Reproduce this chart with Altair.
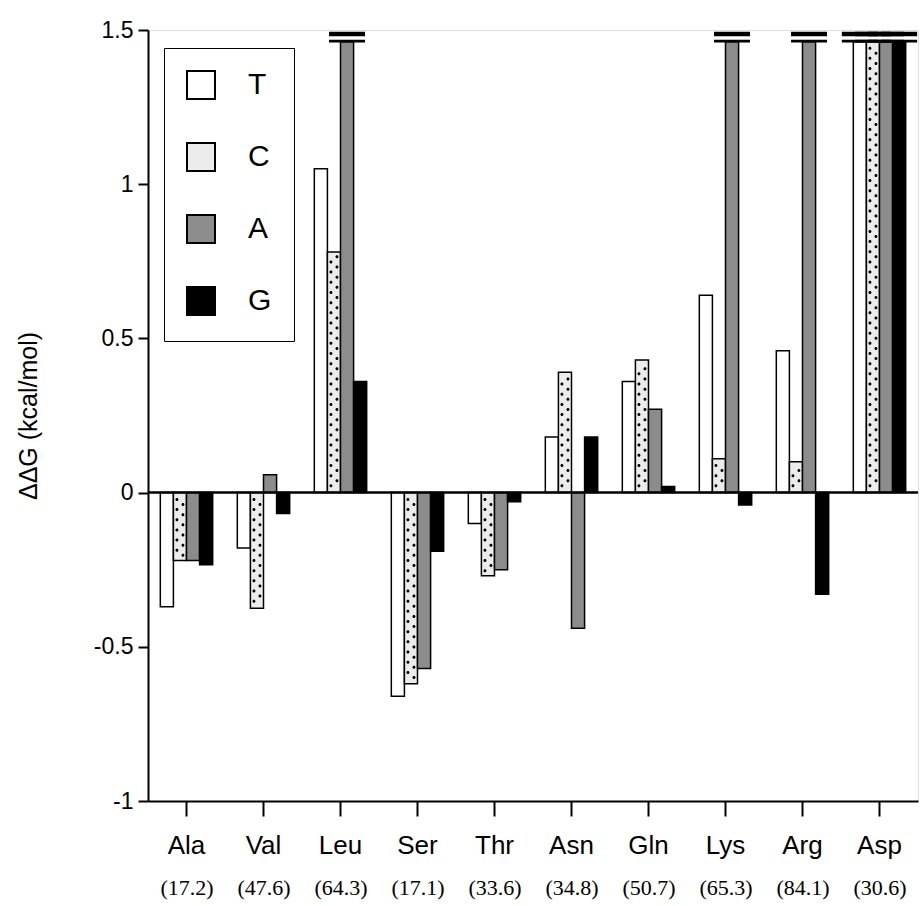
import altair as alt
import pandas as pd
import numpy as np

amino = ["Ala", "Val", "Leu", "Ser", "Thr", "Asn", "Gln", "Lys", "Arg", "Asp"]
volumes = ["(17.2)", "(47.6)", "(64.3)", "(17.1)", "(33.6)", "(34.8)", "(50.7)", "(65.3)", "(84.1)", "(30.6)"]
bases = ["T", "C", "A", "G"]
base_colors = ["#ffffff", "#ececec", "#8c8c8c", "#000000"]

# values of 1.5 are off scale (drawn as broken bars)
dG_T = [-0.37, -0.18, 1.05, -0.66, -0.10, 0.18, 0.36, 0.64, 0.46, 1.5]
dG_C = [-0.22, -0.375, 0.78, -0.62, -0.27, 0.39, 0.43, 0.11, 0.10, 1.5]
dG_A = [-0.22, 0.058, 1.5, -0.57, -0.25, -0.44, 0.27, 1.5, 1.5, 1.5]
dG_G = [-0.234, -0.068, 0.36, -0.19, -0.03, 0.18, 0.02, -0.04, -0.33, 1.5]

Y_MIN, Y_MAX = -1.0, 1.5
BAR_TOP = 1.462

rows = []
for b, vals in zip(bases, [dG_T, dG_C, dG_A, dG_G]):
    for a, v in zip(amino, vals):
        rows.append({"amino": a, "base": b, "value": v,
                     "shown": min(v, BAR_TOP), "capped": v >= Y_MAX})
df = pd.DataFrame(rows)

# dotted pattern inside C bars (staggered two columns)
dots = []
for a, v in zip(amino, dG_C):
    top = min(abs(v), BAR_TOP)
    ys = np.arange(0.022, top - 0.012, 0.0165)
    for i, yy in enumerate(ys):
        dots.append({"amino": a, "base": "C", "y": float(np.sign(v) * yy),
                     "side": "L" if i % 2 == 0 else "R"})
dots_df = pd.DataFrame(dots)

vol_df = pd.DataFrame({"vol": volumes})

FONT = "Liberation Sans"

x_scale = alt.Scale(domain=amino, paddingInner=0.32, paddingOuter=0.16)
x_axis = alt.Axis(title=None, labelAngle=0, labelFont=FONT, labelFontSize=26,
                  labelColor="black", labelPadding=16, tickSize=15,
                  tickWidth=2, tickColor="black", domainColor="black",
                  domainWidth=2, labelBaseline="top")
x_enc = alt.X("amino:N", sort=amino, scale=x_scale, axis=x_axis)
xoff = alt.XOffset("base:N", sort=bases,
                   scale=alt.Scale(domain=bases, paddingInner=0, paddingOuter=0))
y_scale = alt.Scale(domain=[Y_MIN, Y_MAX], nice=False, zero=False)
y_axis = alt.Axis(title="ΔΔG (kcal/mol)", values=[-1, -0.5, 0, 0.5, 1, 1.5],
                  labelExpr="toString(datum.value)", labelFont=FONT,
                  labelFontSize=23, labelColor="black", tickSize=10, tickWidth=2,
                  tickColor="black", domainColor="black", domainWidth=2,
                  grid=False, titleFont=FONT, titleFontSize=25,
                  titleFontWeight="normal", titleColor="black", titlePadding=52,
                  labelPadding=5)

bars = alt.Chart(df).mark_bar(stroke="black", strokeWidth=1.5).encode(
    x=x_enc,
    xOffset=xoff,
    y=alt.Y("shown:Q", scale=y_scale, axis=y_axis),
    y2=alt.datum(0),
    color=alt.Color("base:N", sort=bases,
                    scale=alt.Scale(domain=bases, range=base_colors),
                    legend=alt.Legend(title=None, orient="none", legendX=16, legendY=18,
                                      symbolType="square", symbolSize=784,
                                      symbolStrokeColor="black", symbolStrokeWidth=2,
                                      labelFont=FONT, labelFontSize=30, labelColor="black",
                                      labelOffset=32, rowPadding=36, padding=22,
                                      strokeColor="black", fillColor="white")),
)

# small round dots, shifted left / right of the C bar centre via the symbol path
LEFT_DOT = "M -1.5 0 A 0.5 0.5 0 1 0 -0.5 0 A 0.5 0.5 0 1 0 -1.5 0 Z"
RIGHT_DOT = "M 0.5 0 A 0.5 0.5 0 1 0 1.5 0 A 0.5 0.5 0 1 0 0.5 0 Z"

dots_L = alt.Chart(dots_df).transform_filter(alt.datum.side == "L").mark_point(
    shape=LEFT_DOT, filled=True, color="black", size=36, opacity=1, strokeWidth=0).encode(
    x=x_enc, xOffset=xoff, y=alt.Y("y:Q", scale=y_scale, axis=y_axis))
dots_R = alt.Chart(dots_df).transform_filter(alt.datum.side == "R").mark_point(
    shape=RIGHT_DOT, filled=True, color="black", size=36, opacity=1, strokeWidth=0).encode(
    x=x_enc, xOffset=xoff, y=alt.Y("y:Q", scale=y_scale, axis=y_axis))

capped = df[df["capped"]]
break_lo = alt.Chart(capped).mark_tick(color="black", size=36, thickness=2.6, opacity=1).encode(
    x=x_enc, xOffset=xoff, y=alt.datum(1.464, scale=y_scale, axis=y_axis))
break_hi = alt.Chart(capped).mark_tick(color="black", size=36, thickness=4.6, opacity=1).encode(
    x=x_enc, xOffset=xoff, y=alt.datum(1.487, scale=y_scale, axis=y_axis))

zero = alt.Chart(pd.DataFrame({"z": [0]})).mark_rule(color="black", strokeWidth=2.5).encode(
    y=alt.Y("z:Q", scale=y_scale, axis=y_axis))

main = alt.layer(bars, dots_L, dots_R, break_lo, break_hi, zero)

vol_layer = alt.Chart(vol_df).mark_point(opacity=0).encode(
    x=alt.X("vol:N", sort=volumes,
            scale=alt.Scale(domain=volumes, paddingInner=0.32, paddingOuter=0.16),
            axis=alt.Axis(title=None, orient="bottom", labelAngle=0, ticks=False, domain=False,
                          labelFont="Liberation Serif", labelFontSize=22, labelColor="black",
                          labelPadding=76, labelBaseline="top")))

chart = alt.layer(main, vol_layer).resolve_scale(x="independent").properties(
    width=770, height=771,
    autosize=alt.AutoSizeParams(type="none"),
    padding={"left": 148, "top": 30, "right": 4, "bottom": 105},
).configure_view(stroke="black", strokeWidth=2).configure(background="white")

chart.save("out.html", embed_options={"renderer": "svg", "actions": False})
